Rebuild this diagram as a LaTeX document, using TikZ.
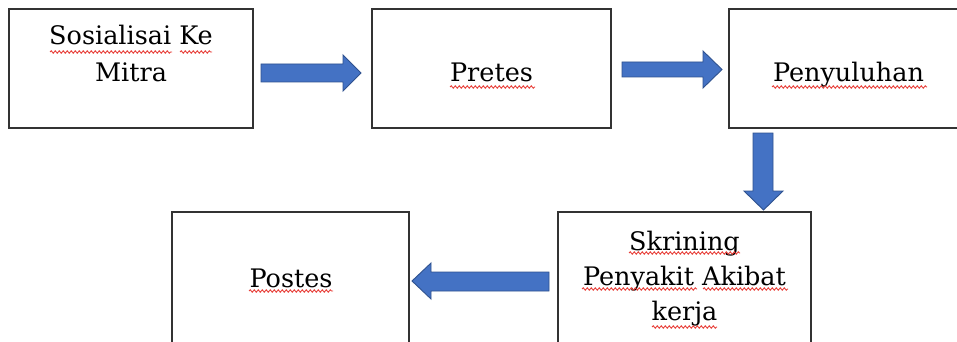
\documentclass[tikz,border=0pt]{standalone}
\usepackage{fontspec}
\setmainfont{DejaVu Serif}
\usetikzlibrary{decorations.pathmorphing}
\definecolor{arrowfill}{HTML}{4472C4}
\definecolor{arrowline}{HTML}{2F528F}
\definecolor{boxline}{HTML}{333333}
\definecolor{squig}{HTML}{E8403A}
\tikzset{
  box/.style={draw=boxline, line width=1.4pt, fill=white, rectangle, inner sep=0pt, outer sep=0pt},
  blockarrow/.style={fill=arrowfill, draw=arrowline, line width=0.9pt, line join=miter},
  lbl/.style={anchor=base, inner sep=0pt, font=\fontsize{25.5}{30}\selectfont, text=black},
  squiggle/.style={draw=squig, line width=0.9pt, decorate, decoration={snake, segment length=4pt, amplitude=1.2pt}}
}
\begin{document}
\begin{tikzpicture}[x=1pt, y=-1pt]
\useasboundingbox (0,0) rectangle (957,342);
\clip (0,0) rectangle (957,342);
\fill[white] (0,0) rectangle (957,342);
% boxes
\node[box, minimum width=244pt, minimum height=119pt] (box1) at (131,68.5) {};
\node[box, minimum width=239pt, minimum height=119pt] (box2) at (491.5,68.5) {};
\node[box, minimum width=238pt, minimum height=119pt] (box3) at (848,68.5) {};
\node[box, minimum width=253pt, minimum height=148pt] (box4) at (684.5,286) {};
\node[box, minimum width=237pt, minimum height=148pt] (box5) at (290.5,286) {};
% labels
\node[lbl] (t1a) at (131,45) {Sosialisai Ke};
\node[lbl] (t1b) at (131,82) {Mitra};
\node[lbl] (t2) at (491.5,82) {Pretes};
\node[lbl] (t3) at (848.5,82) {Penyuluhan};
\node[lbl] (t4a) at (684.5,250) {Skrining};
\node[lbl] (t4b) at (684.5,285) {Penyakit Akibat};
\node[lbl] (t4c) at (684.5,320) {kerja};
\node[lbl] (t5) at (291,287) {Postes};
% spell-check squiggles
\draw[squiggle] (50,52) -- (172,52);
\draw[squiggle] (180,52) -- (212,52);
\draw[squiggle] (450,87) -- (535,87);
\draw[squiggle] (772,87) -- (927,87);
\draw[squiggle] (249,291) -- (333,291);
\draw[squiggle] (629,253) -- (740,253);
\draw[squiggle] (582,289) -- (697,289);
\draw[squiggle] (703,289) -- (788,289);
\draw[squiggle] (652,327) -- (717,327);
% block arrows
\draw[blockarrow] (261,64) -- (343,64) -- (343,55) -- (361,73) -- (343,91) -- (343,82) -- (261,82) -- cycle;
\draw[blockarrow] (622,62) -- (703,62) -- (703,51) -- (722,69.5) -- (703,88) -- (703,77) -- (622,77) -- cycle;
\draw[blockarrow] (753,133) -- (773,133) -- (773,191) -- (783,191) -- (763.5,210) -- (744,191) -- (753,191) -- cycle;
\draw[blockarrow] (549,272) -- (431,272) -- (431,263) -- (412,281) -- (431,299) -- (431,291) -- (549,291) -- cycle;
\end{tikzpicture}
\end{document}
